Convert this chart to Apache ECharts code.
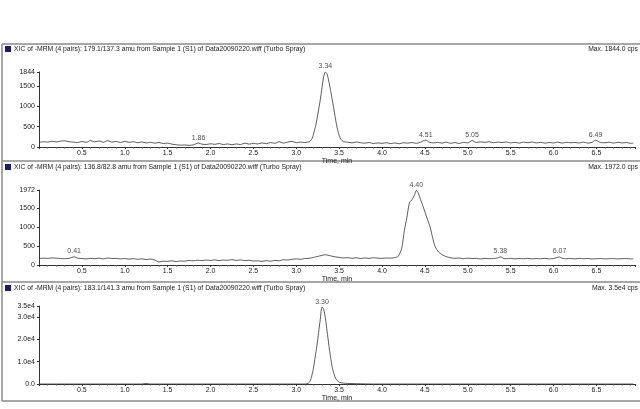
<!DOCTYPE html>
<html><head><meta charset="utf-8">
<script src="https://cdn.jsdelivr.net/npm/echarts@6/dist/echarts.min.js"></script>
<style>html,body{margin:0;padding:0;background:#fff}#c{width:640px;height:409px}</style>
</head><body><div id="c"></div>
<script>
// ---------- data ----------
const titles = [
  'XIC of -MRM (4 pairs): 179.1/137.3 amu from Sample 1 (S1) of Data20090220.wiff (Turbo Spray)',
  'XIC of -MRM (4 pairs): 136.8/82.8 amu from Sample 1 (S1) of Data20090220.wiff (Turbo Spray)',
  'XIC of -MRM (4 pairs): 183.1/141.3 amu from Sample 1 (S1) of Data20090220.wiff (Turbo Spray)'
];
const maxLabels = ['Max. 1844.0 cps', 'Max. 1972.0 cps', 'Max. 3.5e4 cps'];
const yMax = [1844, 1972, 35000];

const time1 = [0,0.05,0.1,0.15,0.2,0.25,0.3,0.35,0.4,0.45,0.5,0.55,0.6,0.65,0.7,0.75,0.8,0.85,0.9,0.95,
 1.0,1.05,1.1,1.15,1.2,1.25,1.3,1.35,1.4,1.45,1.5,1.55,1.6,1.65,1.7,1.75,1.8,1.86,1.9,1.95,
 2.0,2.05,2.1,2.15,2.2,2.25,2.3,2.35,2.4,2.45,2.5,2.55,2.6,2.65,2.7,2.75,2.8,2.85,2.9,2.95,
 3.0,3.05,3.1,3.15,3.18,3.2,3.23,3.26,3.28,3.3,3.32,3.34,3.36,3.38,3.4,3.42,3.44,3.46,3.48,3.5,3.52,3.55,
 3.6,3.65,3.7,3.75,3.8,3.85,3.9,3.95,4.0,4.05,4.1,4.15,4.2,4.25,4.3,4.35,4.4,4.45,4.51,4.55,
 4.6,4.65,4.7,4.75,4.8,4.85,4.9,4.95,5.0,5.05,5.1,5.15,5.2,5.25,5.3,5.35,5.4,5.45,5.5,5.55,
 5.6,5.65,5.7,5.75,5.8,5.85,5.9,5.95,6.0,6.05,6.1,6.15,6.2,6.25,6.3,6.35,6.4,6.45,6.49,6.55,
 6.6,6.65,6.7,6.75,6.8,6.85,6.9,6.93];
const cps1 = [110,130,120,140,125,145,150,130,120,110,135,115,160,125,150,115,155,120,135,110,
 140,115,130,105,125,100,115,95,110,85,95,70,55,45,50,40,55,95,70,60,
 80,65,85,60,75,55,75,60,95,70,90,75,100,80,110,90,130,95,120,140,
 105,120,110,130,190,310,560,910,1160,1460,1730,1844,1790,1610,1390,1160,910,660,440,290,190,130,
 120,100,125,105,95,110,85,100,90,105,85,100,80,105,95,110,90,120,170,120,
 100,115,95,120,90,110,85,115,100,160,110,125,115,130,105,120,110,125,100,115,
 95,120,105,125,100,115,95,110,100,120,95,115,105,110,100,120,95,115,165,110,
 105,120,95,115,100,110,90,95];

const time2 = [0,0.05,0.1,0.15,0.2,0.25,0.3,0.35,0.41,0.45,0.5,0.55,0.6,0.65,0.7,0.75,0.8,0.85,0.9,0.95,
 1.0,1.05,1.1,1.15,1.2,1.25,1.3,1.35,1.4,1.45,1.5,1.55,1.6,1.65,1.7,1.75,1.8,1.85,1.9,1.95,
 2.0,2.05,2.1,2.15,2.2,2.25,2.3,2.35,2.4,2.45,2.5,2.55,2.6,2.65,2.7,2.75,2.8,2.85,2.9,2.95,
 3.0,3.05,3.1,3.15,3.2,3.25,3.3,3.34,3.4,3.45,3.5,3.55,3.6,3.65,3.7,3.75,3.8,3.85,3.9,3.95,
 4.0,4.05,4.1,4.15,4.19,4.23,4.26,4.29,4.32,4.35,4.38,4.4,4.42,4.45,4.48,4.52,4.56,4.59,4.62,4.66,
 4.71,4.75,4.8,4.85,4.9,4.95,5.0,5.05,5.1,5.15,5.2,5.25,5.3,5.34,5.38,5.42,5.45,5.5,5.55,5.6,
 5.65,5.7,5.75,5.8,5.85,5.9,5.95,6.0,6.07,6.1,6.15,6.2,6.25,6.3,6.35,6.4,6.45,6.5,6.55,6.6,
 6.65,6.7,6.75,6.8,6.85,6.9,6.93];
const cps2 = [170,180,175,185,180,170,165,175,215,180,170,160,175,165,180,160,185,170,175,160,
 170,155,165,150,160,145,155,130,80,100,95,110,90,105,100,120,110,125,115,130,
 120,135,115,130,125,140,120,135,115,125,105,110,95,115,100,120,110,140,130,150,
 160,150,170,175,200,225,255,270,240,215,200,185,195,175,190,170,185,175,190,180,
 175,185,180,195,230,440,900,1250,1640,1720,1850,1960,1900,1720,1530,1260,1010,720,480,340,
 260,220,190,175,185,165,180,170,175,160,175,165,170,180,215,170,165,175,160,170,
 165,175,160,170,165,175,160,170,210,175,165,170,160,175,165,170,160,165,170,160,
 165,170,160,165,170,160,165];

const time3 = [0,0.5,1.0,1.2,1.25,1.3,2.0,2.5,3.0,3.1,3.14,3.16,3.18,3.2,3.22,3.24,3.26,3.28,3.3,3.32,
 3.34,3.36,3.38,3.4,3.42,3.44,3.46,3.48,3.5,3.55,3.6,3.65,3.7,3.75,3.8,3.9,4.5,5.5,6.5,6.93];
const cps3 = [0,0,0,0,250,0,0,0,0,0,300,1200,3500,7000,12000,17000,23000,29000,34500,33500,
 29500,23500,17500,12000,7500,4500,2500,1400,800,400,250,200,150,120,50,0,0,0,0,0];

// peak annotations: [time, cps, label]
const peaks1 = [[1.86,95,'1.86'],[3.34,1844,'3.34'],[4.51,170,'4.51'],[5.05,160,'5.05'],[6.49,165,'6.49']];
const peaks2 = [[0.41,215,'0.41'],[4.40,1960,'4.40'],[5.38,215,'5.38'],[6.07,210,'6.07']];
const peaks3 = [[3.30,34500,'3.30']];

// ---------- chart ----------
const FONT = 'Liberation Sans';
const TXT = '#222';
const gridTops = [72, 190, 306];
const gridHeights = [75, 75, 78];

const chart = echarts.init(document.getElementById('c'), null, {renderer: 'canvas'});

function zip(t, v) { return t.map((x, i) => [x, v[i]]); }
const traces = [zip(time1, cps1), zip(time2, cps2), zip(time3, cps3)];
const peaks = [peaks1, peaks2, peaks3];

const grids = [], xAxes = [], yAxes = [], series = [];
for (let i = 0; i < 3; i++) {
  grids.push({left: 39, right: 5, top: gridTops[i], height: gridHeights[i]});
  xAxes.push({
    type: 'value', gridIndex: i, min: 0, max: 6.95, interval: 0.5,
    name: 'Time, min', nameLocation: 'middle', nameGap: 11,
    nameTextStyle: {fontFamily: FONT, fontSize: 7, color: TXT},
    axisLine: {lineStyle: {color: '#333', width: 1}},
    axisTick: {show: true, length: 2, inside: false, lineStyle: {color: '#333'}},
    minorTick: {show: true, splitNumber: 5, length: 1.5, lineStyle: {color: '#555'}},
    axisLabel: {fontFamily: FONT, fontSize: 7, color: TXT, margin: 3,
      formatter: v => (v === 0 || v > 6.6) ? '' : v.toFixed(1)},
    splitLine: {show: false}
  });
  yAxes.push({
    type: 'value', gridIndex: i, min: 0, max: yMax[i],
    interval: i === 2 ? 10000 : 500,
    axisLine: {show: true, lineStyle: {color: '#333', width: 1}},
    axisTick: {show: true, length: 2, lineStyle: {color: '#333'}},
    axisLabel: {fontFamily: FONT, fontSize: 7, color: TXT, margin: 4,
      formatter: i === 2 ? (v => v === 0 ? '0.0' : (v / 10000).toFixed(1) + 'e4') : (v => String(v))},
    splitLine: {show: false}
  });
  series.push({
    type: 'line', xAxisIndex: i, yAxisIndex: i, data: traces[i],
    showSymbol: false, smooth: 0.25, lineStyle: {color: '#333', width: 0.8},
    animation: false
  });
  series.push({
    type: 'scatter', xAxisIndex: i, yAxisIndex: i,
    data: peaks[i].map(p => ({value: [p[0], p[1]], label: {formatter: p[2]}})),
    symbolSize: 0, silent: true,
    label: {show: true, position: 'top', distance: 2, fontFamily: FONT, fontSize: 7, color: TXT},
    animation: false
  });
}

const titleY = [49, 167, 288];
const sepY = [44, 161, 282, 401];
const graphics = [];
sepY.forEach(y => graphics.push({type: 'line', shape: {x1: 2, y1: y, x2: 640, y2: y},
  style: {stroke: '#8a8a8a', lineWidth: 1.5}, silent: true}));
graphics.push({type: 'line', shape: {x1: 2, y1: 44, x2: 2, y2: 401}, style: {stroke: '#8a8a8a', lineWidth: 1.5}});
for (let i = 0; i < 3; i++) {
  graphics.push({type: 'rect', shape: {x: 5, y: titleY[i] - 3, width: 6, height: 6},
    style: {fill: '#1c1c6a'}});
  graphics.push({type: 'text', x: 14, y: titleY[i],
    style: {text: titles[i], fontFamily: FONT, fontSize: 6.8, fill: TXT, textVerticalAlign: 'middle', verticalAlign: 'middle'}});
  graphics.push({type: 'text', x: 638, y: titleY[i],
    style: {text: maxLabels[i], fontFamily: FONT, fontSize: 6.8, fill: TXT, textAlign: 'right', align: 'right', textVerticalAlign: 'middle', verticalAlign: 'middle'}});
}

chart.setOption({
  backgroundColor: '#fff',
  animation: false,
  grid: grids, xAxis: xAxes, yAxis: yAxes, series: series,
  graphic: graphics
});
</script></body></html>
